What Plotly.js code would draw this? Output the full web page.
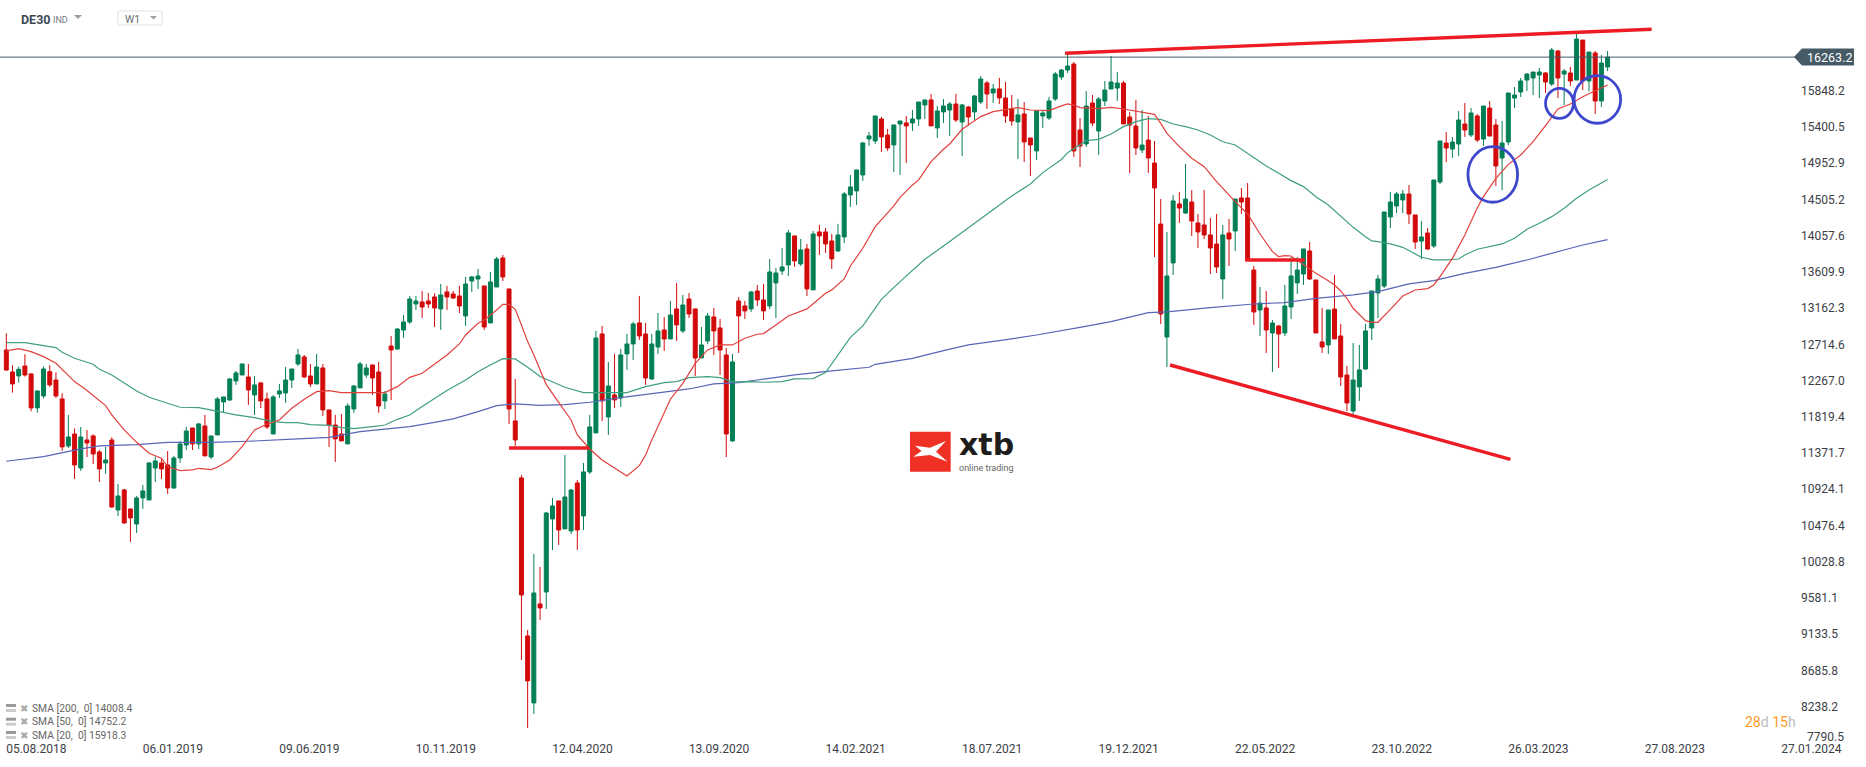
<!DOCTYPE html>
<html>
<head>
<meta charset="utf-8">
<script src="https://cdn.plot.ly/plotly-3.0.1.min.js"></script>
<style>html,body{margin:0;padding:0;background:#fff}#chart{width:1866px;height:767px}</style>
</head>
<body>
<div id="chart"></div>
<script>
const opens = [12645,12373,12324,12447,12349,11929,12077,12377,12274,12040,
11459,11607,11187,11533,11583,11385,11249,11533,10668,10915,
10681,10495,10817,10792,11187,11249,11224,10940,11311,11471,
11681,11484,11706,11323,11595,12003,12027,12262,12336,12311,
12089,12237,12040,11607,12101,12114,12274,12472,12559,12324,
12225,12423,11904,11718,11607,11484,11916,12176,12336,12460,
12373,12015,12694,12657,12892,12991,13213,13238,13250,13300,
13152,13362,13337,13312,13065,13497,13522,13436,12979,13423,
13782,13399,11768,11064,9112,8284,9507,9655,10557,10780,
10434,10409,11002,10594,11138,11620,12843,11817,12089,12052,
12596,12719,12979,12843,12287,12682,12892,12781,13152,12880,
13275,13152,12546,12756,13053,12917,12583,11521,13250,13189,
13152,13374,13263,13189,13473,13621,13695,14054,13708,13893,
13387,14103,14103,13992,13868,14041,14560,14610,14807,15252,
15227,15499,15301,15178,15437,15450,15450,15499,15672,15734,
15388,15586,15610,15684,15462,15647,15586,15709,15944,15820,
15870,15759,15623,15462,15561,15264,15104,15536,15511,15746,
16017,16104,16178,15363,15190,15696,15350,15721,15869,15881,
15943,15523,15412,15116,15239,14955,14201,12805,13720,14449,
14337,14473,14214,14189,14066,13954,13522,14090,14115,14523,
14523,13633,13139,13164,12855,12941,12855,13176,13473,13584,
13868,13510,12744,12707,13151,12818,12336,11891,12188,12410,
12917,13349,13435,14288,14424,14498,14572,14313,13991,14090,
13930,14720,15202,15128,15190,15437,15301,15536,15251,15634,
15424,15017,15214,15758,15832,15980,16005,16042,16067,15931,
16339,16054,16067,15980,16474,15968,16314,15721,16141];
const closes = [12398,12225,12406,12336,11929,12139,12410,12213,12077,11447,
11570,11224,11570,11496,11360,11175,11286,10705,10841,10508,
10570,10817,10903,11249,11274,11175,10940,11311,11484,11644,
11484,11731,11336,11583,12040,12064,12287,12361,12472,12151,
12213,12015,11694,12064,12139,12274,12410,12583,12311,12225,
12435,11904,11718,11546,11521,11953,12200,12472,12423,12299,
11953,12101,12645,12904,12991,13275,13250,13176,13213,13164,
13325,13300,13287,13189,13460,13547,13559,12929,13485,13769,
13547,11916,11533,9618,8556,9643,9458,10631,10718,10421,
10829,10915,10421,11138,11694,12793,12015,12200,12027,12583,
12719,12966,12818,12299,12719,12880,12781,13077,12954,13201,
13090,12546,12707,13065,12880,12645,11607,12497,13065,13127,
13362,13263,13127,13609,13596,13671,14091,13745,13881,13399,
14078,14054,13955,13770,14066,14573,14659,14869,15203,15289,
15536,15277,15141,15425,15474,15413,15499,15709,15734,15413,
15598,15660,15684,15487,15672,15524,15783,15993,15808,15870,
15759,15536,15474,15549,15215,15178,15598,15573,15721,16055,
16104,16153,15103,15165,15659,15449,15746,15857,15956,15943,
15437,15424,15140,15177,15017,14646,13090,13559,14486,14399,
14510,14238,14103,14066,13905,13670,14066,14016,14510,14473,
13757,13114,13225,12892,12978,12842,13188,13559,13633,13893,
13522,12855,12682,13139,12781,12311,11990,12274,12398,12880,
13374,13522,14350,14473,14572,14572,14325,13979,14041,13893,
14745,15227,15140,15214,15486,15363,15573,15239,15659,15288,
14918,15202,15820,15795,15968,16054,16079,16079,15956,16351,
16005,16091,15968,16487,15968,16326,15721,16190,16263.2];
const highs = [12851,12456,12439,12592,12357,12139,12439,12456,12369,12110,
11842,11677,11694,11657,11603,11410,11447,11566,10990,10928,
10681,10841,10977,11261,11327,11298,11397,11336,11521,11694,
11681,11743,11842,11583,12064,12064,12299,12386,12472,12472,
12324,12250,12118,12089,12225,12435,12410,12657,12583,12472,
12596,12472,11904,11842,11854,11986,12213,12497,12472,12460,
12497,12139,12818,12917,13077,13312,13312,13374,13349,13345,
13460,13436,13374,13436,13547,13559,13646,13436,13609,13794,
13819,13399,12287,11101,9186,10125,9964,10644,10817,10780,
11348,10928,11039,11249,11842,12880,12942,12497,12596,12657,
12843,12991,13312,12979,12843,13102,13053,13250,13473,13325,
13349,13152,12929,13102,13164,13028,12670,12596,13300,13250,
13374,13448,13460,13769,13658,13905,14128,14054,14017,13955,
14115,14190,14153,14078,14202,14597,14807,14869,15215,15338,
15536,15524,15376,15425,15474,15536,15610,15709,15734,15808,
15660,15746,15709,15808,15684,15660,15796,16030,15969,15932,
16006,15956,15796,15746,15709,15264,15610,15598,15771,16080,
16116,16301,16203,15511,15844,15795,15770,15968,16277,16079,
15968,15585,15733,15610,15536,15227,14510,14103,14560,14597,
14943,14621,14325,14621,14276,14325,14189,14263,14510,14646,
14708,13683,13423,13374,13015,12954,13448,13794,13794,13893,
13979,13510,13164,13139,13571,12966,12447,12731,12707,12966,
13374,13571,14350,14597,14597,14621,14683,14313,14238,14152,
14745,15227,15338,15276,15597,15696,15634,15560,15659,15721,
15498,15474,15820,15894,16005,16067,16079,16129,16079,16376,
16351,16116,16141,16549,16474,16326,16339,16289,16339];
const lows = [12386,12118,12241,12316,11887,11871,12044,12188,12052,11397,
11434,11051,11150,11323,11237,11014,11113,10693,10594,10495,
10273,10384,10681,10792,11014,11051,10866,10928,11249,11410,
11410,11422,11336,11298,11595,11879,12015,12213,12336,11966,
11842,11928,11669,11607,12052,11990,12176,12447,12299,12188,
12225,11830,11447,11261,11521,11484,11867,12176,12299,12089,
11867,11916,12027,12645,12793,12966,13139,13040,13164,12929,
12892,13139,13275,13102,12942,13362,13399,12892,12979,13423,
13497,11731,11459,8815,7975,8148,9310,9445,10174,10236,
10434,10372,10174,10421,11113,11620,11768,11595,11928,11941,
12398,12521,12769,12213,12274,12596,12633,12781,12756,12855,
13040,12324,12546,12719,12583,12336,11323,11508,12608,13028,
13114,13189,13016,13152,13040,13572,13560,13671,13683,13312,
13387,13819,13844,13646,13856,13967,14412,14437,14733,15166,
15190,15091,15104,14844,14807,14956,15351,15413,15499,15413,
15264,15450,15289,15462,15042,15413,15487,15684,15623,15697,
15684,15450,15413,15005,14968,14795,14993,15388,15487,15721,
15980,16067,15029,14905,15153,15412,15054,15659,15869,15721,
15437,14831,15054,15078,14831,13794,12966,12435,13571,14214,
14325,14053,13905,14016,13584,13596,13275,13683,13868,14325,
13744,12954,12818,12608,12373,12422,12818,13028,13337,13448,
13510,12855,12608,12595,12781,12200,11891,11842,12015,12398,
12768,13040,13411,14152,14337,14337,14201,13893,13769,13880,
13905,14696,14967,15017,15041,15276,15276,15214,15165,15288,
14671,14621,15177,15634,15770,15844,15795,15758,15820,15906,
15758,15671,15906,15980,15857,15840,15560,15647,16091];

const sma20Weeks = [0,2,4,6,8,11,13,16,17,19,21,23,25,26,28,30,31,33,34,36,38,40,42,44,46,48,50,52,54,58,61,63,65,67,69,71,73,74,76,77,79,80,81,82,83,84,85,87,89,91,92,94,96,98,100,102,103,104,107,109,111,113,115,117,119,121,122,124,126,129,131,132,133,135,136,138,140,143,144,146,147,149,151,152,154,157,159,161,163,165,168,170,171,172,173,176,178,180,183,185,186,187,189,191,193,195,198,200,202,204,205,206,207,209,211,213,214,215,216,217,219,220,221,223,225,227,229,230,231,233,235,237,238,240,242,244,246,248,250,252,254,256,258];
const sma20Values = [12633,12662,12624,12563,12480,12254,12143,11957,11842,11657,11504,11368,11307,11204,11154,11163,11183,11167,11196,11286,11451,11657,11727,11780,11924,12036,12130,12143,12118,12118,12118,12192,12307,12357,12472,12583,12719,12830,12974,13016,13139,13209,13209,13147,12954,12748,12583,12217,11998,11780,11595,11422,11286,11183,11088,11216,11348,11533,12036,12233,12480,12645,12707,12707,12789,12839,12847,12954,13065,13152,13275,13345,13387,13522,13683,13901,14169,14424,14531,14684,14746,14972,15124,15190,15371,15528,15590,15614,15639,15610,15602,15660,15684,15671,15639,15626,15643,15622,15581,15556,15445,15321,15157,15013,14910,14724,14477,14325,14078,13860,13798,13810,13806,13695,13592,13501,13448,13374,13283,13160,13007,12987,12987,13147,13312,13386,13403,13448,13551,13777,14066,14400,14539,14765,14938,15054,15218,15416,15622,15684,15774,15848,15918.3];
const sma50Weeks = [0,3,5,8,9,11,14,15,17,19,21,23,26,28,31,34,37,40,43,45,47,49,52,54,56,59,61,63,65,67,69,71,74,76,78,80,82,84,86,88,90,93,95,99,100,103,106,108,110,113,115,117,120,122,125,127,130,132,134,136,138,141,144,148,152,156,159,162,165,167,170,171,174,176,178,180,182,184,186,188,190,192,194,196,198,199,201,203,205,207,209,211,213,215,217,219,220,221,223,225,226,228,230,232,234,235,237,239,241,243,245,247,249,251,253,255,258];
const sma50Values = [12736,12736,12711,12674,12616,12542,12468,12406,12336,12241,12139,12060,11986,11937,11933,11883,11842,11809,11760,11747,11747,11723,11714,11686,11673,11698,11718,11788,11842,11945,12048,12143,12274,12377,12460,12538,12534,12431,12316,12246,12184,12118,12118,12110,12118,12192,12241,12254,12303,12316,12303,12250,12254,12246,12254,12287,12291,12365,12583,12801,12942,13271,13490,13765,13984,14210,14387,14548,14696,14836,14999,15083,15231,15247,15313,15404,15466,15503,15494,15437,15404,15363,15301,15218,15177,15124,15013,14918,14827,14737,14663,14539,14436,14292,14160,14045,13992,13983,13955,13913,13872,13790,13757,13757,13769,13819,13889,13922,13955,14025,14136,14210,14292,14395,14519,14622,14752.2];
const sma200Weeks = [0,6,12,15,21,26,33,39,47,52,57,61,65,69,72,76,79,82,86,90,94,99,105,110,114,118,121,127,133,139,140,146,151,155,160,166,173,178,184,187,194,201,206,211,217,221,226,230,235,240,245,250,254,258];
const sma200Values = [11270,11327,11422,11459,11476,11504,11504,11517,11546,11566,11636,11665,11698,11751,11793,11883,11957,11978,11961,11970,11999,12056,12110,12163,12225,12241,12274,12336,12386,12431,12468,12542,12637,12707,12760,12830,12925,12995,13106,13115,13168,13213,13230,13283,13325,13366,13461,13502,13592,13666,13757,13860,13942,14008.4];

const xTickLabels = ['05.08.2018','06.01.2019','09.06.2019','10.11.2019','12.04.2020','13.09.2020','14.02.2021','18.07.2021','19.12.2021','22.05.2022','23.10.2022','26.03.2023','27.08.2023','27.01.2024'];
const xTickDates = ['2018-08-05','2019-01-06','2019-06-09','2019-11-10','2020-04-12','2020-09-13','2021-02-14','2021-07-18','2021-12-19','2022-05-22','2022-10-23','2023-03-26','2023-08-27','2024-01-28'];
const yTickValues = [8238.2,8685.8,9133.5,9581.1,10028.8,10476.4,10924.1,11371.7,11819.4,12267.0,12714.6,13162.3,13609.9,14057.6,14505.2,14952.9,15400.5,15848.2];
const lastPrice = 16263.2;
const lowestTickLabel = '7790.5';
const smaLegend = ['SMA [200,  0] 14008.4','SMA [50,  0] 14752.2','SMA [20,  0] 15918.3'];

const WEEK = 7*864e5, T0 = Date.UTC(2018,7,5);
const wk = i => new Date(T0 + i*WEEK).toISOString().slice(0,19).replace('T',' ');
const dates = opens.map((_,i)=>wk(i));
// plot area: 1800 x 740 px
const PW = 1800, PH = 740;
const px = x => x/PW, py = y => (PH-y)/PH;

const smaTrace = (weeks,vals,color)=>({type:'scatter',mode:'lines',x:weeks.map(wk),y:vals,line:{color,width:1.2},hoverinfo:'skip'});
const traces = [
 {type:'candlestick',x:dates,open:opens,high:highs,low:lows,close:closes,whiskerwidth:0,
  increasing:{line:{color:'#037f55',width:1},fillcolor:'#037f55'},
  decreasing:{line:{color:'#d20a0a',width:1},fillcolor:'#d20a0a'},hoverinfo:'skip'},
 smaTrace(sma200Weeks,sma200Values,'#5a64b8'),
 smaTrace(sma50Weeks,sma50Values,'#3f9f80'),
 smaTrace(sma20Weeks,sma20Values,'#e2403c')
];

const RED='#ed1c24', BLUE='#3f48cc';
const tl=(a,pa,b,pb)=>({type:'line',xref:'x',yref:'y',x0:wk(a),y0:pa,x1:wk(b),y1:pb,line:{color:RED,width:3.4},layer:'above'});
const circ=(a,b,p0,p1)=>({type:'circle',xref:'x',yref:'y',x0:wk(a),x1:wk(b),y0:p0,y1:p1,line:{color:BLUE,width:2.8},fillcolor:'rgba(0,0,0,0)',layer:'above'});
const pxPath=(x,y,path,fill)=>({type:'path',xref:'paper',yref:'paper',xsizemode:'pixel',ysizemode:'pixel',xanchor:px(x),yanchor:py(y),path,fillcolor:fill,line:{width:0},layer:'above'});
const pxRect=(x0,y0,x1,y1,fill,lc)=>({type:'rect',xref:'paper',yref:'paper',x0:px(x0),x1:px(x1),y0:py(y0),y1:py(y1),fillcolor:fill,line:lc?{color:lc,width:1}:{width:0},layer:'above'});

const shapes=[
 {type:'line',xref:'paper',yref:'y',x0:0,x1:1,y0:lastPrice,y1:lastPrice,line:{color:'#455a64',width:1},layer:'above'},
 tl(170.6,16310,265.1,16607),
 tl(187.5,12459,242.35,11294),
 tl(81.0,11434,93.9,11434),
 tl(199.6,13757,209.2,13757),
 circ(235.5,243.5,14470,15156),
 circ(248.0,252.5,15507,15878),
 circ(252.6,260.1,15446,16034),
 {type:'path',xref:'paper',yref:'y',xsizemode:'pixel',ysizemode:'pixel',xanchor:1,yanchor:lastPrice,
  path:'M-6,0 L2,8.5 L54,8.5 L54,-8.5 L2,-8.5 Z',fillcolor:'#455a64',line:{width:0},layer:'above'},
 pxRect(910,431.7,950.7,471.7,'#ee3124'),
 pxPath(930.3,451.7,'M-15.3,6 L-0.3,4 L15.7,10.7 L5.7,0 L17.3,-10 L-0.3,-3.3 L-17,-5 L-8.7,0.7 Z','#ffffff'),
 pxPath(74,15,'M0,0 L8,0 L4,-4 Z','#9aa0a5'),
 pxRect(118,11,162,25,'#ffffff','#dfe1e3'),
 pxPath(150,16,'M0,0 L7,0 L3.5,-3.5 Z','#9aa0a5')
];
[708,721.7,735].forEach(y=>{
 shapes.push(pxRect(6,y-4,16,y-1,'#9a9a9a'));
 shapes.push(pxRect(6,y+1,16,y+4,'#cccccc'));
});

const note=(x,y,text,font,anchor)=>({xref:'paper',yref:'paper',x:px(x),y:py(y),text,font,xanchor:anchor||'left',yanchor:'middle',showarrow:false,borderpad:0});
const annotations=[
 note(19.5,19.5,'<b>DE30</b>',{family:'Roboto',size:12.5,color:'#3c4a55'}),
 note(52,19.5,'IND',{family:'Roboto',size:9,color:'#777c80'}),
 note(124,20,'W1',{family:'Roboto',size:10.5,color:'#666c70'}),
 note(1806,737,lowestTickLabel,{family:'Roboto',size:12,color:'#3b4046'}),
 note(1744,722,'<span style="color:#ff9a1f">28</span><span style="color:#bdbdbd">d</span> <span style="color:#ff9a1f">15</span><span style="color:#bdbdbd">h</span>',{family:'Roboto',size:14,color:'#ff9a1f'}),
 note(958,444.5,'<b>xtb</b>',{family:'DejaVu Sans',size:30,color:'#1d1d1b'}),
 note(958,467.5,'online trading',{family:'Roboto',size:9,color:'#666666'}),
 note(1806,57.5,String(lastPrice),{family:'Roboto',size:12.5,color:'#ffffff'})
];
[708,721.7,735].forEach((y,i)=>{
 annotations.push(note(19,y,'✖',{family:'DejaVu Sans',size:10,color:'#a8a8a8'}));
 annotations.push(note(31,y,smaLegend[i],{family:'Roboto',size:10.3,color:'#666666'}));
});

const layout={
 width:1866,height:767,margin:{l:0,r:66,t:0,b:27,pad:0},
 paper_bgcolor:'#ffffff',plot_bgcolor:'#ffffff',showlegend:false,hovermode:false,
 boxgap:0.2,boxgroupgap:0.2,
 font:{family:'Roboto',size:12,color:'#3b4046'},
 xaxis:{type:'date',range:[wk(-1.015),wk(289)],rangeslider:{visible:false},showgrid:false,zeroline:false,showline:false,ticks:'',
  tickmode:'array',tickvals:xTickDates,ticktext:xTickLabels,tickangle:0,ticklabelshift:30,tickfont:{family:'Roboto',size:12,color:'#3b4046'}},
 yaxis:{side:'right',range:[7826,16968.8],showgrid:false,zeroline:false,showline:false,ticks:'',
  tickmode:'array',tickvals:yTickValues,ticktext:yTickValues.map(v=>v.toFixed(1)),tickfont:{family:'Roboto',size:12,color:'#3b4046'}},
 shapes,annotations
};
Plotly.newPlot('chart',traces,layout,{staticPlot:true,displayModeBar:false});
</script>
</body>
</html>
